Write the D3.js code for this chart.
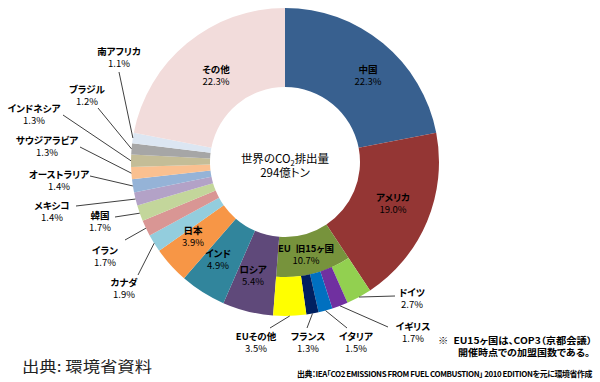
<!DOCTYPE html>
<html><head><meta charset="utf-8">
<script src="https://cdn.jsdelivr.net/npm/d3@7"></script>
<style>
body{margin:0;background:#fff}
svg text{font-family:"Noto Sans CJK JP",sans-serif;font-feature-settings:"palt";fill:#000}
</style></head><body><script>
// shares of world CO2 emissions (%), clockwise from the top
const countries = ["中国","アメリカ","EU\u2002旧15ヶ国","ロシア","インド","日本","カナダ","イラン","韓国","メキシコ","オーストラリア","サウジアラビア","インドネシア","ブラジル","南アフリカ","その他"]
const shares = [22.3,19.0,10.7,5.4,4.9,3.9,1.9,1.7,1.7,1.4,1.4,1.3,1.3,1.2,1.1,22.3]
const colors = ["#38608f","#943634","#77933c","#5f497a","#31859c","#f79646","#93cddd","#d99694","#c3d69b","#b3a2c7","#95b3d7","#fac090","#c4bd97","#a6a6a6","#dce6f2","#f2dcdb"]

// breakdown of the EU 15 slice
const euCountries = ["ドイツ","イギリス","イタリア","フランス","EUその他"]
const euShares = [2.7,1.7,1.5,1.3,3.5]
const euColors = ["#92d050","#7030a0","#0070c0","#002060","#ffff00"]

const centerTitle = "294億トン"

// where each label sits (name line centre) and where its leader line starts
const labelAt = {
  "中国":[368,70],"その他":[216,70],"アメリカ":[393,198],"EU\u2002旧15ヶ国":[306,249],
  "ロシア":[253,270],"インド":[218,254],"日本":[193,231],
  "南アフリカ":[119,52],"ブラジル":[87,90],"インドネシア":[34,109],"サウジアラビア":[47,141],
  "オーストラリア":[59,175],"メキシコ":[52,206],"韓国":[100,216],"イラン":[105,251],"カナダ":[124,283],
  "ドイツ":[412,293],"イギリス":[413,327],"イタリア":[356,337],"フランス":[308,337],"EUその他":[256,337]
}
const leaderFrom = {
  "南アフリカ":[119,72],"ブラジル":[98,108],"インドネシア":[63,115],"サウジアラビア":[80,147],
  "オーストラリア":[90,176],"メキシコ":[76,206],"韓国":[115,217],"イラン":[125,240],"カナダ":[138,275],
  "ドイツ":[395,296],"イギリス":[388,327],"イタリア":[347,328],"フランス":[307,328],"EUその他":[270,328]
}

const width = 600, height = 382
const cx = 285, cy = 162
const rIn = 75, rMid = 115, rOut = 154

let svg = d3.select("body").append("svg")
    .attr("width", width)
    .attr("height", height)

let g = svg.append("g").attr("transform", `translate(${cx},${cy})`)

// percent -> angle, so the slices keep their printed share of the circle
let angle = d3.scaleLinear().domain([0,100]).range([0, 2*Math.PI])

let pie = d3.pie().sort(null)
    .value(d => d.v)
    .startAngle(0)
    .endAngle(angle(d3.sum(shares)))

let main = pie(countries.map((c,i) => ({name: c, v: shares[i], color: colors[i]})))
main.forEach(d => { d.endAngle = Math.min(d.endAngle, 2*Math.PI) })

let eu = main[2]
let euPie = d3.pie().sort(null)
    .value(d => d.v)
    .startAngle(eu.startAngle)
    .endAngle(eu.endAngle)
let euSlices = euPie(euCountries.map((c,i) => ({name: c, v: euShares[i], color: euColors[i]})))

let ring = d3.arc().innerRadius(rIn).outerRadius(rOut)
let euInner = d3.arc().innerRadius(rIn).outerRadius(rMid)
let euOuter = d3.arc().innerRadius(rMid).outerRadius(rOut)
let edge = d3.arc().innerRadius(rOut).outerRadius(rOut)

g.selectAll("path.main")
    .data(main)
    .enter().append("path")
    .attr("class", "main")
    .attr("d", (d,i) => i == 2 ? euInner(d) : ring(d))
    .attr("fill", d => d.data.color)

g.selectAll("path.eu")
    .data(euSlices)
    .enter().append("path")
    .attr("class", "eu")
    .attr("d", euOuter)
    .attr("fill", d => d.data.color)

// leader lines
let all = main.concat(euSlices)
let led = all.filter(d => leaderFrom[d.data.name])
g.selectAll("line.lead")
    .data(led)
    .enter().append("line")
    .attr("x1", d => leaderFrom[d.data.name][0] - cx)
    .attr("y1", d => leaderFrom[d.data.name][1] - cy)
    .attr("x2", d => edge.centroid(d)[0])
    .attr("y2", d => edge.centroid(d)[1])
    .attr("stroke", "#404040")
    .attr("stroke-width", 1)

// labels: name + share as two lines of one text
let lab = svg.selectAll("text.lab")
    .data(all)
    .enter().append("text")
    .attr("class", "lab")
    .attr("transform", d => `translate(${labelAt[d.data.name][0]},${labelAt[d.data.name][1]})`)
    .attr("text-anchor", "middle")
    .style("font-size", "9.5px")

lab.append("tspan")
    .attr("x", 0)
    .attr("dy", "0.35em")
    .style("font-weight", "bold")
    .text(d => d.data.name)

lab.append("tspan")
    .attr("x", 0)
    .attr("dy", 12)
    .text(d => d.data.v.toFixed(1) + "%")

// centre title
let t1 = svg.append("text")
    .attr("transform", `translate(${cx},${cy - 3})`)
    .attr("text-anchor", "middle")
    .style("font-size", "11.5px")
t1.append("tspan").attr("dy", "0.35em").text("世界のCO")
t1.append("tspan").text("2").style("font-size", "7.5px").attr("dy", 2.5)
t1.append("tspan").text("排出量").attr("dy", -2.5)
t1.append("tspan").attr("x", 0).attr("dy", 14).text(centerTitle)

// notes
svg.append("text")
    .attr("x", 438).attr("y", 341).attr("dy", "0.35em")
    .attr("textLength", 154).attr("lengthAdjust", "spacingAndGlyphs")
    .style("font-size", "9px").style("font-weight", "bold")
    .text("※\u2002EU15ヶ国は、COP3（京都会議）")

svg.append("text")
    .attr("x", 458).attr("y", 353).attr("dy", "0.35em")
    .attr("textLength", 132).attr("lengthAdjust", "spacingAndGlyphs")
    .style("font-size", "9px").style("font-weight", "bold")
    .text("開催時点での加盟国数である。")

svg.append("text")
    .attr("x", 297).attr("y", 374).attr("dy", "0.35em")
    .attr("textLength", 295).attr("lengthAdjust", "spacingAndGlyphs")
    .style("font-size", "7.8px").style("font-weight", "bold")
    .style("letter-spacing", "-0.4px")
    .text("出典：IEA「CO2 EMISSIONS FROM FUEL COMBUSTION」 2010 EDITIONを元に環境省作成")

svg.append("text")
    .attr("x", 22).attr("y", 367).attr("dy", "0.35em")
    .attr("textLength", 130).attr("lengthAdjust", "spacingAndGlyphs")
    .style("font-size", "15px")
    .style("fill", "#222")
    .text("出典: 環境省資料")
</script></body></html>
